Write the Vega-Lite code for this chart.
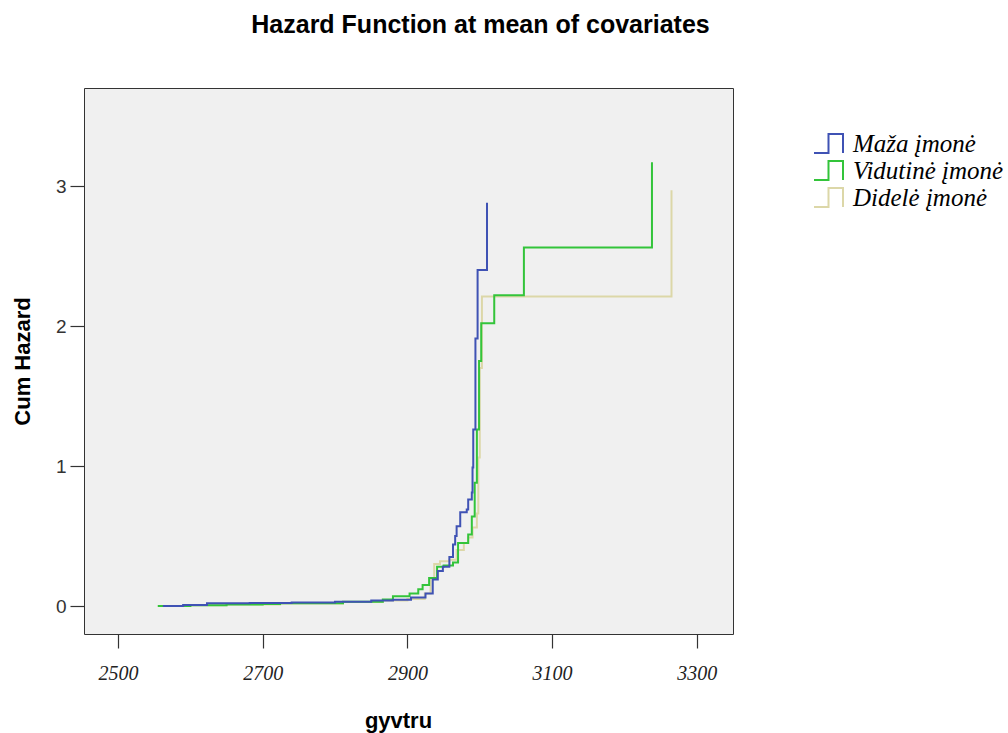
{
  "$schema": "https://vega.github.io/schema/vega-lite/v6.json",
  "width": 649,
  "height": 546,
  "autosize": "none",
  "padding": {"left": 84, "top": 88, "right": 275, "bottom": 99},
  "background": "white",
  "title": {
    "text": "Hazard Function at mean of covariates",
    "font": "Liberation Sans",
    "fontSize": 25,
    "fontWeight": "bold",
    "color": "#000000",
    "frame": "group",
    "anchor": "middle",
    "dx": 72,
    "baseline": "alphabetic",
    "offset": 30
  },
  "config": {
    "view": {"stroke": "#333333", "strokeWidth": 1, "fill": "#f0f0f0"},
    "axis": {"grid": false, "domain": false, "tickColor": "#333333", "tickWidth": 1.2, "tickSize": 14}
  },
  "data": {
    "values": [
      {"group": "Didelė įmonė", "t": 2555, "h": 0},
      {"group": "Didelė įmonė", "t": 2600, "h": 0.005},
      {"group": "Didelė įmonė", "t": 2650, "h": 0.01},
      {"group": "Didelė įmonė", "t": 2724, "h": 0.018},
      {"group": "Didelė įmonė", "t": 2811, "h": 0.028},
      {"group": "Didelė įmonė", "t": 2866, "h": 0.04},
      {"group": "Didelė įmonė", "t": 2900, "h": 0.05},
      {"group": "Didelė įmonė", "t": 2924, "h": 0.09},
      {"group": "Didelė įmonė", "t": 2932, "h": 0.2},
      {"group": "Didelė įmonė", "t": 2937, "h": 0.3},
      {"group": "Didelė įmonė", "t": 2945, "h": 0.32},
      {"group": "Didelė įmonė", "t": 2958, "h": 0.33},
      {"group": "Didelė įmonė", "t": 2968, "h": 0.4},
      {"group": "Didelė įmonė", "t": 2978, "h": 0.45},
      {"group": "Didelė įmonė", "t": 2984, "h": 0.49},
      {"group": "Didelė įmonė", "t": 2990, "h": 0.56},
      {"group": "Didelė įmonė", "t": 2996, "h": 0.66},
      {"group": "Didelė įmonė", "t": 2998, "h": 1.06},
      {"group": "Didelė įmonė", "t": 3000, "h": 1.7},
      {"group": "Didelė įmonė", "t": 3003, "h": 2.21},
      {"group": "Didelė įmonė", "t": 3265, "h": 2.97},
      {"group": "Vidutinė įmonė", "t": 2555, "h": 0},
      {"group": "Vidutinė įmonė", "t": 2600, "h": 0.005},
      {"group": "Vidutinė įmonė", "t": 2650, "h": 0.01},
      {"group": "Vidutinė įmonė", "t": 2700, "h": 0.015},
      {"group": "Vidutinė įmonė", "t": 2724, "h": 0.02},
      {"group": "Vidutinė įmonė", "t": 2811, "h": 0.03},
      {"group": "Vidutinė įmonė", "t": 2866, "h": 0.046},
      {"group": "Vidutinė įmonė", "t": 2880, "h": 0.07},
      {"group": "Vidutinė įmonė", "t": 2903, "h": 0.09},
      {"group": "Vidutinė įmonė", "t": 2915, "h": 0.12},
      {"group": "Vidutinė įmonė", "t": 2921, "h": 0.15},
      {"group": "Vidutinė įmonė", "t": 2930, "h": 0.2},
      {"group": "Vidutinė įmonė", "t": 2941, "h": 0.28},
      {"group": "Vidutinė įmonė", "t": 2950, "h": 0.29},
      {"group": "Vidutinė įmonė", "t": 2963, "h": 0.31},
      {"group": "Vidutinė įmonė", "t": 2970, "h": 0.45},
      {"group": "Vidutinė įmonė", "t": 2984, "h": 0.51},
      {"group": "Vidutinė įmonė", "t": 2989, "h": 0.64},
      {"group": "Vidutinė įmonė", "t": 2993, "h": 0.88},
      {"group": "Vidutinė įmonė", "t": 2996, "h": 1.26},
      {"group": "Vidutinė įmonė", "t": 2999, "h": 1.75},
      {"group": "Vidutinė įmonė", "t": 3002, "h": 2.02},
      {"group": "Vidutinė įmonė", "t": 3020, "h": 2.22},
      {"group": "Vidutinė įmonė", "t": 3061, "h": 2.56},
      {"group": "Vidutinė įmonė", "t": 3238, "h": 3.17},
      {"group": "Maža įmonė", "t": 2562, "h": 0},
      {"group": "Maža įmonė", "t": 2590, "h": 0.008},
      {"group": "Maža įmonė", "t": 2623, "h": 0.02},
      {"group": "Maža įmonė", "t": 2682, "h": 0.022},
      {"group": "Maža įmonė", "t": 2740, "h": 0.025},
      {"group": "Maža įmonė", "t": 2800, "h": 0.03},
      {"group": "Maža įmonė", "t": 2850, "h": 0.04},
      {"group": "Maža įmonė", "t": 2880, "h": 0.045},
      {"group": "Maža įmonė", "t": 2905, "h": 0.06},
      {"group": "Maža įmonė", "t": 2925, "h": 0.09},
      {"group": "Maža įmonė", "t": 2935, "h": 0.19},
      {"group": "Maža įmonė", "t": 2942, "h": 0.25},
      {"group": "Maža įmonė", "t": 2949, "h": 0.28},
      {"group": "Maža įmonė", "t": 2958, "h": 0.35},
      {"group": "Maža įmonė", "t": 2963, "h": 0.44},
      {"group": "Maža įmonė", "t": 2966, "h": 0.5},
      {"group": "Maža įmonė", "t": 2968, "h": 0.57},
      {"group": "Maža įmonė", "t": 2973, "h": 0.67},
      {"group": "Maža įmonė", "t": 2982, "h": 0.69},
      {"group": "Maža įmonė", "t": 2984, "h": 0.76},
      {"group": "Maža įmonė", "t": 2989, "h": 0.81},
      {"group": "Maža įmonė", "t": 2990, "h": 0.99},
      {"group": "Maža įmonė", "t": 2991, "h": 1.26},
      {"group": "Maža įmonė", "t": 2994, "h": 1.91},
      {"group": "Maža įmonė", "t": 2997, "h": 2.4},
      {"group": "Maža įmonė", "t": 3010, "h": 2.88}
    ]
  },
  "mark": {"type": "line", "interpolate": "step-after", "strokeWidth": 2, "clip": true},
  "encoding": {
    "x": {
      "field": "t",
      "type": "quantitative",
      "scale": {"domain": [2453, 3350], "nice": false, "zero": false},
      "axis": {
        "values": [2500, 2700, 2900, 3100, 3300],
        "format": "d",
        "title": "gyvtru",
        "titleFont": "Liberation Sans",
        "titleFontSize": 22,
        "titleFontWeight": "bold",
        "titleColor": "#000000",
        "titleX": 314,
        "titleY": 86,
        "titleAlign": "center",
        "titleBaseline": "middle",
        "labelFont": "Liberation Serif",
        "labelFontStyle": "italic",
        "labelFontSize": 20,
        "labelColor": "#222222",
        "labelPadding": 15
      }
    },
    "y": {
      "field": "h",
      "type": "quantitative",
      "scale": {"domain": [-0.2, 3.7], "nice": false, "zero": false},
      "axis": {
        "values": [0, 1, 2, 3],
        "title": "Cum Hazard",
        "titleFont": "Liberation Sans",
        "titleFontSize": 22,
        "titleFontWeight": "bold",
        "titleColor": "#000000",
        "titleAngle": -90,
        "titleX": -62,
        "titleY": 273,
        "titleAlign": "center",
        "titleBaseline": "middle",
        "labelFont": "Liberation Sans",
        "labelFontSize": 19,
        "labelColor": "#333333",
        "labelPadding": 4
      }
    },
    "color": {
      "field": "group",
      "type": "nominal",
      "scale": {
        "domain": ["Maža įmonė", "Vidutinė įmonė", "Didelė įmonė"],
        "range": ["#3f52b4", "#33c43a", "#dcd7a8"]
      },
      "legend": {
        "title": null,
        "orient": "none",
        "legendX": 731,
        "legendY": 42,
        "padding": 0,
        "symbolType": "M-1.16,0.76 H0 V-0.76 H1.16 V0.76",
        "symbolSize": 625,
        "symbolStrokeWidth": 2,
        "symbolFillColor": "transparent",
        "labelFont": "Liberation Serif",
        "labelFontStyle": "italic",
        "labelFontSize": 25,
        "labelColor": "#000000",
        "labelOffset": 11,
        "rowPadding": -1,
        "labelLimit": 300
      }
    }
  }
}
